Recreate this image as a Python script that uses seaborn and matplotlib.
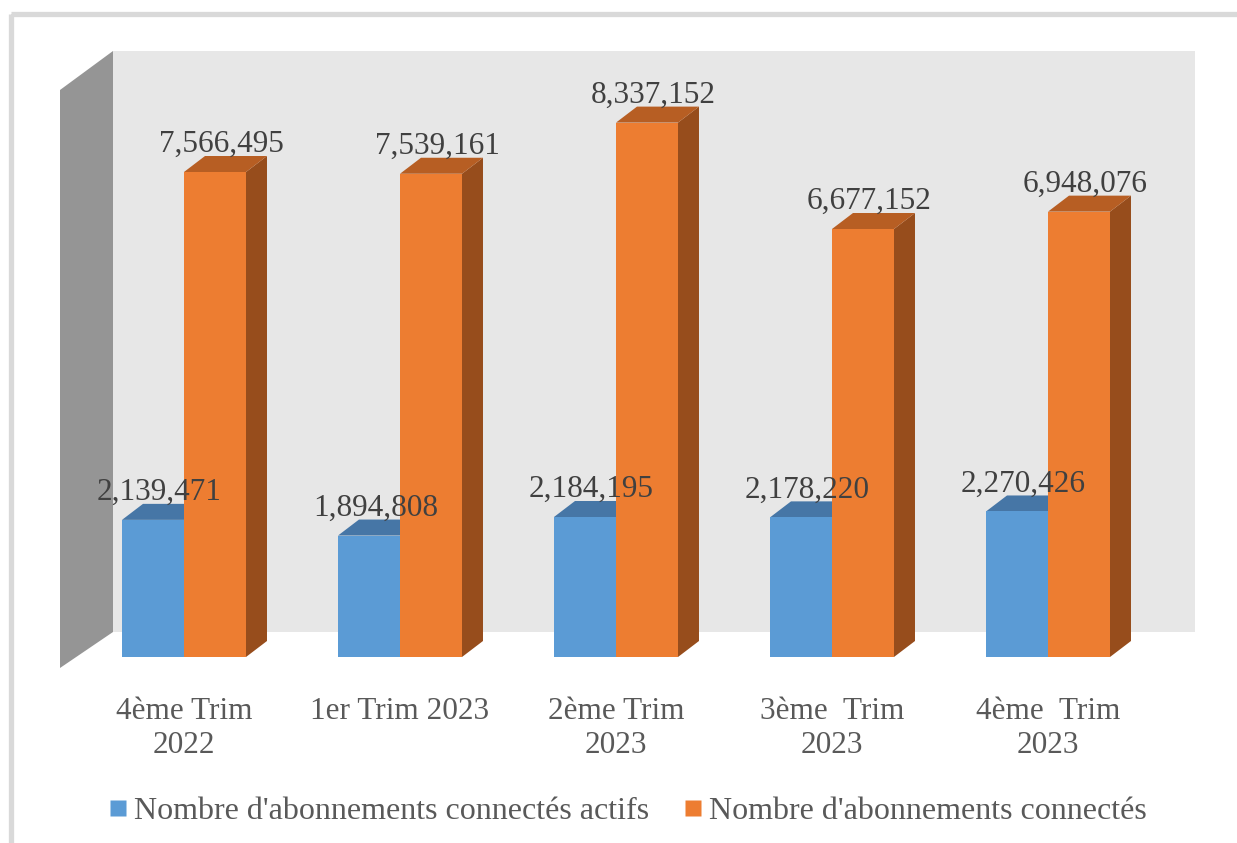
import pandas as pd
import matplotlib.pyplot as plt
import seaborn as sns
from matplotlib.patches import Polygon, Rectangle
from matplotlib.lines import Line2D

# Chart data
periodes = ["4ème Trim\n2022", "1er Trim 2023", "2ème Trim\n2023", "3ème  Trim\n2023", "4ème  Trim\n2023"]
series = ["Nombre d'abonnements connectés actifs", "Nombre d'abonnements connectés"]
actifs = [2139471, 1894808, 2184195, 2178220, 2270426]
connectes = [7566495, 7539161, 8337152, 6677152, 6948076]

couleurs = ["#5b9bd5", "#ed7d31"]
couleurs_top = ["#4676a6", "#b75e23"]
couleurs_side = ["#3d6a96", "#974d1c"]

df = pd.DataFrame({
    "periode": periodes * 2,
    "serie": [series[0]] * len(periodes) + [series[1]] * len(periodes),
    "valeur": actifs + connectes,
})

sns.set_style("white")
plt.rcParams["font.family"] = ["Liberation Serif", "DejaVu Serif"]

W, H = 1237, 843
fig = plt.figure(figsize=(W / 100, H / 100), dpi=100)


def px(x, y):
    return (x / W, 1 - y / H)


# frame + walls (figure pixel coords)
fig.patches.append(Rectangle(px(10.5, 13.5), 1240 / W, -840 / H, transform=fig.transFigure,
                             fill=False, edgecolor="#d9d9d9", linewidth=3.8, zorder=0))
fig.patches.append(Polygon([px(113, 51), px(1195, 51), px(1195, 632), px(113, 632)],
                           closed=True, transform=fig.transFigure, facecolor="#e7e7e7",
                           edgecolor="none", zorder=0))
fig.patches.append(Polygon([px(60, 90), px(113, 51), px(113, 632), px(60, 668)],
                           closed=True, transform=fig.transFigure, facecolor="#959595",
                           edgecolor="none", zorder=0))

# axes: left 60px, right 1195px, bottom 657px (value 0), top 51px
ax = fig.add_axes([60 / W, 1 - 657 / H, (1195 - 60) / W, (657 - 51) / H])
ax.set_zorder(1)
ax.patch.set_alpha(0)

sns.barplot(data=df, x="periode", y="valeur", hue="serie", palette=couleurs,
            width=0.574, saturation=1, ax=ax, legend=False, zorder=3)

ax.set_xlim((60 - 184) / 216, (1195 - 184) / 216)
ax.set_ylim(0, 606 / 6.4098e-5)

# depth offset in data units
x_per_px = (ax.get_xlim()[1] - ax.get_xlim()[0]) / (1195 - 60)
y_per_px = (ax.get_ylim()[1] - ax.get_ylim()[0]) / (657 - 51)
dx, dy = 21 * x_per_px, 16 * y_per_px

n = len(periodes)
for i, bar in enumerate(ax.patches):
    s = i // n
    x0, w, h = bar.get_x(), bar.get_width(), bar.get_height()
    bar.set_edgecolor("none")
    ax.add_patch(Polygon([(x0 + w, 0), (x0 + w + dx, dy), (x0 + w + dx, h + dy), (x0 + w, h)],
                         closed=True, facecolor=couleurs_side[s], edgecolor="none", zorder=2))
    ax.add_patch(Polygon([(x0, h), (x0 + dx, h + dy), (x0 + w + dx, h + dy), (x0 + w, h)],
                         closed=True, facecolor=couleurs_top[s], edgecolor="none", zorder=2))
    ax.text(x0 + w / 2 + dx * 0.3, h + dy + 4 * y_per_px, f"{h:,.0f}", ha="center",
            va="baseline", fontsize=22.5, color="#404040", zorder=5, clip_on=False)

ax.set_xlabel("")
ax.set_ylabel("")
ax.set_yticks([])
sns.despine(ax=ax, left=True, bottom=True)
ax.tick_params(axis="x", length=0, pad=29)
for lab in ax.get_xticklabels():
    lab.set_fontsize(22.5)
    lab.set_color("#595959")
    lab.set_linespacing(1.22)

handles = [Line2D([], [], marker="s", linestyle="none", markersize=11,
                  markerfacecolor=c, markeredgecolor="none") for c in couleurs]
fig.legend(handles, series, loc="center", bbox_to_anchor=(0.506, 0.037), ncol=2,
           frameon=False, fontsize=23, labelcolor="#595959", handletextpad=0.1,
           columnspacing=1.0, handlelength=0.8)

fig.savefig("out.png", dpi=100)
